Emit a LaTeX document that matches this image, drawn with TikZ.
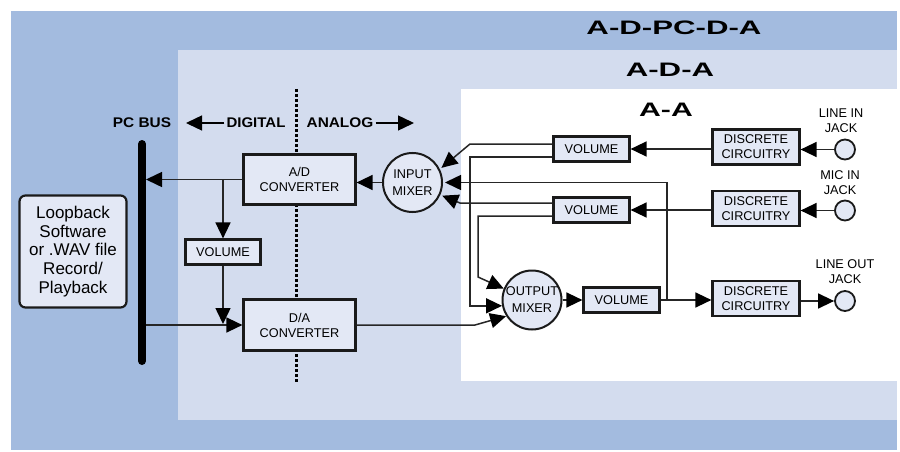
\documentclass[tikz,border=0pt]{standalone}
\usepackage{fontspec}
\usepackage{graphicx}
\setmainfont{Liberation Sans}
\usetikzlibrary{arrows.meta,calc}
\definecolor{outerblue}{HTML}{A3BBDF}
\definecolor{midblue}{HTML}{D3DCEE}
\definecolor{boxfill}{HTML}{E3E8F5}
\definecolor{linegray}{HTML}{262626}
\definecolor{boxline}{HTML}{1A1A1A}
\begin{document}
\begin{tikzpicture}[x=1pt,y=-1pt,
  box/.style={draw=boxline, line width=2.2pt, fill=boxfill, inner sep=0pt, align=center,
    font=\fontsize{12.7}{15}\selectfont},
  mixer/.style={circle, draw=boxline, line width=2pt, fill=boxfill, minimum size=59pt,
    inner sep=0pt, align=center, font=\fontsize{12.7}{17}\selectfont},
  jack/.style={circle, draw=boxline, line width=1.8pt, fill=boxfill, minimum size=20pt, inner sep=0pt},
  jlbl/.style={align=center, font=\fontsize{12.7}{15}\selectfont, inner sep=0pt},
  conn/.style={draw=linegray, line width=1.5pt, -{Triangle[length=16pt,width=15pt,color=black]}},
  bigarr/.style={draw=black, line width=1.4pt, -{Triangle[length=16pt,width=15pt]}},
  title/.style={font=\fontsize{19.5}{20}\selectfont\bfseries, inner sep=0pt},
  lbl/.style={font=\fontsize{14}{16}\selectfont\bfseries, inner sep=2pt},
  dotline/.style={draw=black, line width=3pt, dash pattern=on 3pt off 2pt}
]
\useasboundingbox (0,0) rectangle (900,452);
% backgrounds
\fill[white] (0,0) rectangle (900,452);
\fill[outerblue] (11,11) rectangle (897,450);
\fill[midblue] (178,50) rectangle (897,420);
\fill[white] (461,89) rectangle (897,381);
% titles
\node[title] (t1) at (674,28) {\scalebox{1.6}[1]{A-D-PC-D-A}};
\node[title] (t2) at (670,70) {\scalebox{1.6}[1]{A-D-A}};
\node[title] (t3) at (666,110) {\scalebox{1.55}[1]{A-A}};
% dotted divider
\coordinate (dtop) at (296,89);
\coordinate (dbot) at (296,382);
\draw[dotline] (dtop) -- (dbot);
% labels
\node[lbl] (pcbus) at (142,123) {\scalebox{1.1}[1]{PC BUS}};
\node[lbl] (dig) at (256,123) {\scalebox{1.07}[1]{DIGITAL}};
\node[lbl] (ana) at (340,123) {\scalebox{1.1}[1]{ANALOG}};
\coordinate (digtip) at (186,123);
\coordinate (anatip) at (414,123);
\draw[bigarr] (dig.west) -- (digtip);
\draw[bigarr] (ana.east) -- (anatip);
% bus
\coordinate (busT) at (142,144);
\coordinate (busB) at (142,361);
\draw[line width=8pt, line cap=round] (busT) -- (busB);
\coordinate (busR) at (146,0);
% loopback
\node[draw=boxline, line width=2.2pt, fill=boxfill, rounded corners=6pt, minimum width=107pt,
  minimum height=112pt, align=center, font=\fontsize{17}{18.7}\selectfont, inner sep=0pt]
  (loop) at (73,251.5) {Loopback\\Software\\or .WAV file\\Record/\\Playback};
% converters
\node[box, minimum width=112pt, minimum height=50pt] (AD) at (299.5,179.5) {A/D\\CONVERTER};
\node[box, minimum width=112pt, minimum height=51pt] (DA) at (299.5,325) {D/A\\CONVERTER};
\node[box, minimum width=75pt, minimum height=25pt] (VL) at (223,252) {VOLUME};
% mixers
\node[mixer] (IM) at (412.5,182.5) {INPUT\\MIXER};
\node[mixer] (OM) at (532,300) {OUTPUT\\MIXER};
% volumes
\node[box, minimum width=76pt, minimum height=25pt] (V1) at (591.5,149) {VOLUME};
\node[box, minimum width=76pt, minimum height=25pt] (V2) at (591.5,210) {VOLUME};
\node[box, minimum width=76pt, minimum height=25pt] (V3) at (621.5,300) {VOLUME};
% discrete
\node[box, minimum width=87pt, minimum height=35pt] (DC1) at (756,147) {DISCRETE\\CIRCUITRY};
\node[box, minimum width=87pt, minimum height=35pt] (DC2) at (756,208.5) {DISCRETE\\CIRCUITRY};
\node[box, minimum width=87pt, minimum height=35pt] (DC3) at (756,298.5) {DISCRETE\\CIRCUITRY};
% jacks
\node[jack] (J1) at (845,149.5) {};
\node[jack] (J2) at (845,210.5) {};
\node[jack] (J3) at (845,301) {};
\node[jlbl] (L1) at (841,120.5) {LINE IN\\JACK};
\node[jlbl] (L2) at (840,183) {MIC IN\\JACK};
\node[jlbl] (L3) at (845,272) {LINE OUT\\JACK};
% helper coordinates
\coordinate (c470) at (470,0);
\coordinate (c460) at (460,0);
\coordinate (c478) at (478,277);
\coordinate (c475) at (475,0);
\coordinate (c667) at (667,0);
% left side connectors
\draw[conn] (AD.west) -- (busR |- AD.west);
\coordinate (j1) at (VL.north |- AD.west);
\draw[conn] (j1) -- (VL.north);
\draw[conn] (VL.south) -- ([yshift=1pt]VL.south |- DA.west);
\draw[conn] (busR |- DA.west) -- (DA.west);
\draw[conn] (DA.east) -- (DA.east -| c475) -- (OM.212);
\draw[conn] (IM.west) -- (AD.east |- IM.west);
% inputs to input mixer
\draw[conn, shorten >=2pt] ([yshift=5pt]V1.west) -- ([yshift=5pt]V1.west -| c470) -- (IM.26);
\draw[conn, shorten >=2pt] ([yshift=7pt]V2.west) -- ([yshift=7pt]V2.west -| c460) -- (IM.336);
% to output mixer
\draw[conn] ([yshift=-8pt]V1.west) -- ([yshift=-8pt]V1.west -| c470) -- (c470 |- OM.191) -- (OM.191);
\draw[conn] ([yshift=-6pt]V2.west) -- ([yshift=-6pt]V2.west -| c478) -- (c478) -- (OM.158);
% output chain
\draw[conn] (OM.east) -- (V3.west);
\draw[conn] (V3.east) -- (DC3.west |- V3.east);
\draw[conn, shorten >=2pt] (V3.east -| c667) -- (c667 |- IM.east) -- (IM.east);
\draw[conn] (DC3.east |- J3.west) -- (J3.west);
% jacks to discrete to volume
\draw[conn] (J1.west) -- (DC1.east |- J1.west);
\draw[conn] (DC1.west |- V1.east) -- (V1.east);
\draw[conn] (J2.west) -- (DC2.east |- J2.west);
\draw[conn] (DC2.west |- V2.east) -- (V2.east);
\end{tikzpicture}
\end{document}
